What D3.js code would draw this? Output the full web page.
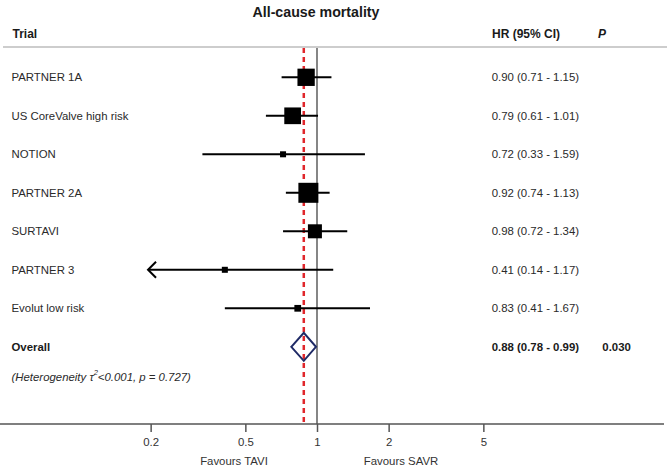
<!DOCTYPE html>
<html>
<head>
<meta charset="utf-8">
<script src="https://cdn.jsdelivr.net/npm/d3@7"></script>
<style>
  html, body { margin: 0; padding: 0; background: #fff; }
  svg { display: block; font-family: "Liberation Sans", Arial, sans-serif; }
</style>
</head>
<body>
<svg id="chart" width="667" height="467"></svg>
<script>
// ---- data ----
const trials = ["PARTNER 1A", "US CoreValve high risk", "NOTION", "PARTNER 2A", "SURTAVI", "PARTNER 3", "Evolut low risk"];
const hr    = [0.90, 0.79, 0.72, 0.92, 0.98, 0.41, 0.83];
const lower = [0.71, 0.61, 0.33, 0.74, 0.72, 0.14, 0.41];
const upper = [1.15, 1.01, 1.59, 1.13, 1.34, 1.17, 1.67];
const weights = [23.2, 21.6, 2.8, 31.0, 15.2, 2.8, 3.5]; // approximate relative weights (%)
const hrLabels = ["0.90 (0.71 - 1.15)", "0.79 (0.61 - 1.01)", "0.72 (0.33 - 1.59)", "0.92 (0.74 - 1.13)", "0.98 (0.72 - 1.34)", "0.41 (0.14 - 1.17)", "0.83 (0.41 - 1.67)"];
const overall = { label: "Overall", hr: 0.88, lower: 0.78, upper: 0.99, text: "0.88 (0.78 - 0.99)", p: "0.030" };
const tickValues = [0.2, 0.5, 1, 2, 5];
const tickLabels = ["0.2", "0.5", "1", "2", "5"];
const plotMin = 0.195; // lower display limit of the axis (arrow beyond)

// ---- layout ----
const svg = d3.select("#chart");
const x = d3.scaleLog().domain([0.1, 10]).range([79, 555]);
const y = d3.scaleLinear().domain([0, 1]).range([77.3, 115.8]);
const size = d3.scaleSqrt().domain([0, 31]).range([0, 20]);
const axisY = 424, topY = 48;
const txt = "#2a2a2a";

// title and header
svg.append("text").attr("x", 316).attr("y", 16.7).attr("text-anchor", "middle")
  .attr("font-size", 14.2).attr("font-weight", "bold").attr("fill", "#1a1a1a").text("All-cause mortality");
svg.append("text").attr("x", 12.5).attr("y", 38.3).attr("font-size", 12).attr("font-weight", "bold").attr("fill", "#1a1a1a").text("Trial");
svg.append("text").attr("x", 492).attr("y", 38.3).attr("font-size", 12).attr("font-weight", "bold").attr("fill", "#1a1a1a").text("HR (95% CI)");
svg.append("text").attr("x", 598).attr("y", 38.3).attr("font-size", 12).attr("font-weight", "bold").attr("font-style", "italic").attr("fill", "#1a1a1a").text("P");
svg.append("line").attr("x1", 3).attr("x2", 667).attr("y1", 47).attr("y2", 47)
  .attr("stroke", "#bdbdbd").attr("stroke-width", 1.5);

// reference lines
svg.append("line").attr("x1", x(1)).attr("x2", x(1)).attr("y1", topY).attr("y2", axisY)
  .attr("stroke", "#444").attr("stroke-width", 1.3);
svg.append("line").attr("x1", x(overall.hr)).attr("x2", x(overall.hr)).attr("y1", topY).attr("y2", axisY)
  .attr("stroke", "#e0262b").attr("stroke-width", 2.5).attr("stroke-dasharray", "5,4");

// axis
svg.append("line").attr("x1", 0).attr("x2", 664).attr("y1", axisY).attr("y2", axisY)
  .attr("stroke", "#555").attr("stroke-width", 1.5);
const axis = d3.axisBottom(x).tickValues(tickValues).tickFormat((d, i) => tickLabels[i]).tickSize(8).tickPadding(6);
const ag = svg.append("g").attr("transform", `translate(0,${axisY})`).call(axis);
ag.select(".domain").remove();
ag.selectAll(".tick line").attr("stroke", "#555").attr("stroke-width", 1.5);
ag.selectAll(".tick text").attr("font-size", 11.4).attr("fill", "#333")
  .attr("font-family", "'Liberation Sans', Arial, sans-serif");
svg.append("text").attr("x", 234).attr("y", 465).attr("text-anchor", "middle").attr("font-size", 11.4).attr("fill", "#333").text("Favours TAVI");
svg.append("text").attr("x", 401).attr("y", 465).attr("text-anchor", "middle").attr("font-size", 11.4).attr("fill", "#333").text("Favours SAVR");

// rows
const rows = trials.map((t, i) => ({ t, hr: hr[i], lo: lower[i], hi: upper[i], w: weights[i], lab: hrLabels[i], i }));
const g = svg.append("g");
g.selectAll("text.lab").data(rows).join("text").attr("class", "lab")
  .attr("x", 11.5).attr("y", d => y(d.i)).attr("dy", "0.35em")
  .attr("font-size", 11.4).attr("fill", txt).text(d => d.t);
g.selectAll("text.val").data(rows).join("text").attr("class", "val")
  .attr("x", 491.7).attr("y", d => y(d.i)).attr("dy", "0.35em")
  .attr("font-size", 11.4).attr("fill", txt).text(d => d.lab);
g.selectAll("line.ci").data(rows).join("line").attr("class", "ci")
  .attr("x1", d => x(Math.max(d.lo, plotMin))).attr("x2", d => x(d.hi))
  .attr("y1", d => y(d.i)).attr("y2", d => y(d.i))
  .attr("stroke", "#000").attr("stroke-width", 2);
// arrows for clipped CIs
g.selectAll("path.arrow").data(rows.filter(d => d.lo < plotMin)).join("path").attr("class", "arrow")
  .attr("d", d => { const x0 = x(plotMin), yy = y(d.i); return `M${x0 + 8},${yy - 8}L${x0},${yy}L${x0 + 8},${yy + 8}`; })
  .attr("fill", "none").attr("stroke", "#000").attr("stroke-width", 2);
g.selectAll("rect.sq").data(rows).join("rect").attr("class", "sq")
  .attr("x", d => x(d.hr) - size(d.w) / 2).attr("y", d => y(d.i) - size(d.w) / 2)
  .attr("width", d => size(d.w)).attr("height", d => size(d.w)).attr("fill", "#000");

// overall
const oy = y(trials.length);
svg.append("text").attr("x", 11.5).attr("y", oy).attr("dy", "0.35em").attr("font-size", 11.4)
  .attr("font-weight", "bold").attr("fill", "#1a1a1a").text(overall.label);
svg.append("text").attr("x", 491.7).attr("y", oy).attr("dy", "0.35em").attr("font-size", 11.4)
  .attr("font-weight", "bold").attr("fill", "#1a1a1a").text(overall.text);
svg.append("text").attr("x", 602.3).attr("y", oy).attr("dy", "0.35em").attr("font-size", 11.4)
  .attr("font-weight", "bold").attr("fill", "#1a1a1a").text(overall.p);
svg.append("path")
  .attr("d", `M${x(overall.lower)},${oy}L${x(overall.hr)},${oy - 14}L${x(overall.upper)},${oy}L${x(overall.hr)},${oy + 14}Z`)
  .attr("fill", "none").attr("stroke", "#1f2a66").attr("stroke-width", 2);

// heterogeneity
const het = svg.append("text").attr("x", 11.5).attr("y", 376.7).attr("dy", "0.35em")
  .attr("font-size", 11.4).attr("font-style", "italic").attr("fill", txt);
het.append("tspan").text("(Heterogeneity τ");
het.append("tspan").attr("font-size", 7.5).attr("dy", "-0.7em").text("2");
het.append("tspan").attr("dy", "0.45em").text("<0.001, p = 0.727)");
</script>
</body>
</html>
